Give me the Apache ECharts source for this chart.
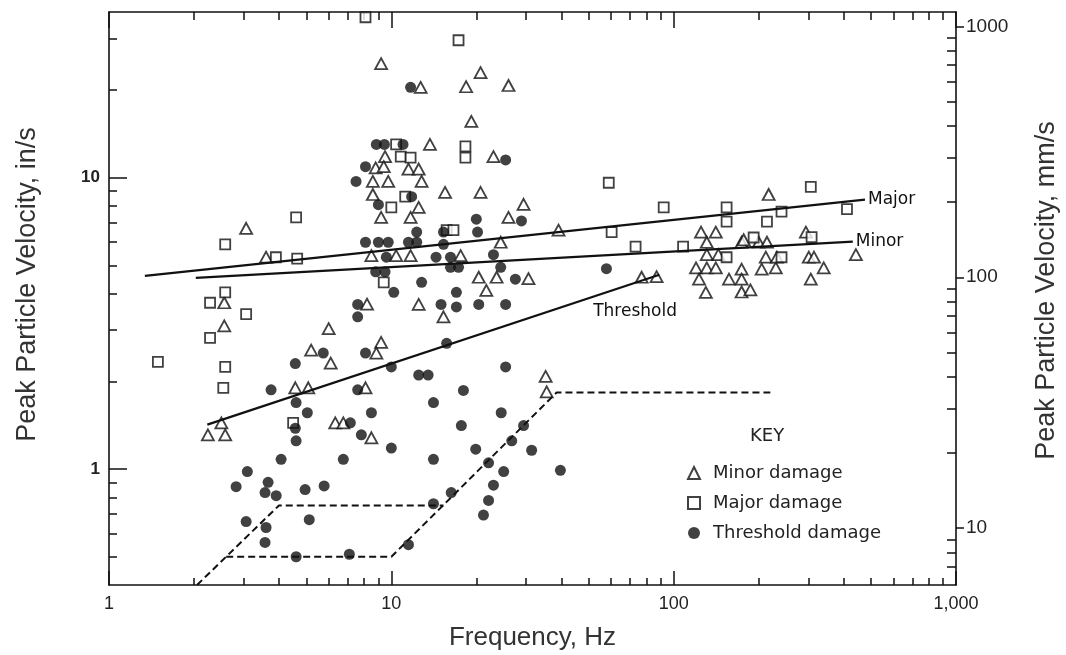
<!DOCTYPE html>
<html><head><meta charset="utf-8">
<script src="https://cdn.jsdelivr.net/npm/echarts@6/dist/echarts.min.js"></script>
<style>html,body{margin:0;padding:0;background:#fff}#c{width:1066px;height:655px}</style>
</head><body><div id="c"></div>
<script>
// ---- data (frequency Hz, peak particle velocity in/s) ----
const minorDamage = [
[9.2,24.6],[12.7,20.4],[18.4,20.5],[20.7,22.9],[26.0,20.7],[19.2,15.6],[13.7,13.0],[23.0,11.8],[9.5,11.8],[8.8,10.8],[9.4,10.9],[11.5,10.7],[12.5,10.7],[8.6,9.7],[9.75,9.7],[12.8,9.7],[8.6,8.75],[15.5,8.9],[20.7,8.9],[12.5,7.9],[29.4,8.1],[26.0,7.3],[9.2,7.3],[11.7,7.3],[39.1,6.6],[8.5,5.4],[10.4,5.4],[11.7,5.4],[17.6,5.4],[20.4,4.55],[23.6,4.55],[30.6,4.5],[21.7,4.1],[24.4,6.0],[12.5,3.67],[15.3,3.33],[8.2,3.68],[9.2,2.72],[8.85,2.5],[6.1,2.31],[5.2,2.56],[6.0,3.03],[3.6,5.33],[3.06,6.7],[2.56,3.72],[2.56,3.1],[4.57,1.9],[5.08,1.9],[8.1,1.9],[2.5,1.44],[2.24,1.31],[2.58,1.31],[6.33,1.44],[6.76,1.44],[8.5,1.28],[35.2,2.08],[35.5,1.84],[77,4.55],[87,4.57],[125,6.5],[141,6.5],[131,6.0],[174,6.0],[131,5.44],[144,5.44],[120,4.9],[131,4.9],[141,4.9],[174,4.85],[123,4.48],[157,4.48],[174,4.48],[130,4.04],[174,4.05],[187,4.12],[177,6.12],[200,6.0],[214,6.0],[217,8.75],[294,6.5],[301,5.33],[314,5.33],[340,4.9],[306,4.48],[442,5.44],[205,4.85],[230,4.9],[212,5.33],[232,5.33]
];
const majorDamage = [
[8.1,35.5],[17.3,29.6],[18.3,12.8],[18.3,11.7],[10.4,13.0],[10.8,11.8],[11.7,11.7],[11.2,8.6],[10.0,7.9],[15.7,6.6],[16.6,6.6],[9.4,4.37],[58.9,9.6],[60.3,6.5],[73.3,5.8],[92.2,7.9],[108,5.8],[154,7.9],[154,7.06],[214,7.06],[241,7.64],[306,9.3],[411,7.8],[192,6.23],[308,6.25],[154,5.33],[241,5.33],[1.49,2.33],[2.58,5.9],[3.9,5.33],[4.64,5.27],[4.6,7.3],[2.58,4.04],[2.28,3.72],[3.06,3.4],[2.28,2.82],[2.58,2.24],[2.54,1.9],[4.49,1.44]
];
const thresholdDamage = [
[11.7,20.4],[8.85,13.0],[9.45,13.0],[11.0,13.0],[25.4,11.5],[8.1,10.9],[7.5,9.7],[11.8,8.6],[9.0,8.07],[20.0,7.2],[28.9,7.1],[12.3,6.5],[20.2,6.5],[8.1,6.0],[9.0,6.0],[9.75,6.0],[11.5,6.0],[12.3,6.0],[15.3,5.9],[9.6,5.33],[14.4,5.33],[16.2,5.33],[23.0,5.44],[8.8,4.75],[9.5,4.75],[16.2,4.92],[17.3,4.92],[24.4,4.92],[57.8,4.87],[12.8,4.37],[27.5,4.48],[10.2,4.04],[17.0,4.04],[7.6,3.67],[7.6,3.33],[15.0,3.67],[17.0,3.6],[20.4,3.67],[25.4,3.67],[4.57,2.3],[5.74,2.5],[8.1,2.5],[10.0,2.24],[15.7,2.7],[12.5,2.1],[13.5,2.1],[25.4,2.24],[3.75,1.87],[7.6,1.87],[4.6,1.69],[5.04,1.56],[4.57,1.38],[4.6,1.25],[7.16,1.44],[8.5,1.56],[7.83,1.31],[10.0,1.18],[4.07,1.08],[6.76,1.08],[14.1,1.08],[14.1,1.69],[18.0,1.86],[24.5,1.56],[17.7,1.41],[29.4,1.41],[19.9,1.17],[26.7,1.25],[31.4,1.16],[22.1,1.05],[25.0,0.98],[39.7,0.99],[23.0,0.88],[16.3,0.83],[22.1,0.78],[14.1,0.76],[21.2,0.695],[11.5,0.55],[3.09,0.98],[2.82,0.87],[3.66,0.9],[3.57,0.83],[3.91,0.81],[4.95,0.85],[5.78,0.875],[3.06,0.66],[3.6,0.63],[3.57,0.56],[5.12,0.67],[4.6,0.5],[7.1,0.51],[15.3,6.5]
];
const majorLine = [[1.34, 4.6], [476, 8.4]];
const minorLine = [[2.03, 4.53], [431, 6.03]];
const thresholdLine = [[2.23, 1.42], [89, 4.64]];
const dashUpper = [[2.05, 0.4], [4.0, 0.75], [15.3, 0.75]];
const dashLower = [[2.6, 0.5], [10, 0.5], [38.5, 1.83], [220, 1.83]];
const lineLabels = [['Major', 476, 8.4], ['Minor', 431, 6.03], ['Threshold', 73, 3.46]];
const xRange = [1, 1000];
const yRange = [0.4, 37];
const yRightRange = [5.94, 1140];
const xTickLabels = {1: '1', 10: '10', 100: '100', 1000: '1,000'};
const yTickLabels = {1: '1', 10: '10'};
const yRightTickLabels = {10: '10', 100: '100', 1000: '1000'};

// ---- chart ----
const FONT = '"Liberation Sans", Arial, sans-serif';
const FONT2 = '"DejaVu Sans", sans-serif';
const L10 = Math.log10;
function minorTicks(lo, hi) {
  const out = [];
  for (let k = -1; k <= 3; k++) for (let d = 2; d <= 9; d++) {
    const v = d * Math.pow(10, k);
    if (v > lo * 1.03 && v < hi / 1.03) out.push(L10(v));
  }
  return out;
}
function pick(map) {
  return function (v) { const r = Math.round(v * 1000) / 1000; return map[r] !== undefined ? map[r] : ''; };
}
const axLine = {show: true, onZero: false, lineStyle: {color: '#111', width: 1.6}};
const tickStyle = {color: '#111', width: 1.5};
const none = {show: false};

const chart = echarts.init(document.getElementById('c'), null, {renderer: 'canvas'});
chart.setOption({
  animation: false,
  backgroundColor: '#fff',
  grid: {left: 109, right: 110, top: 12, bottom: 70, containLabel: false, outerBoundsMode: 'none'},
  title: {text: 'KEY', left: 745, top: 422, textStyle: {fontSize: 18, fontWeight: 'normal', color: '#222', fontFamily: FONT2}},
  legend: {
    data: ['Minor damage', 'Major damage', 'Threshold damage'],
    orient: 'vertical', left: 682, top: 459, itemWidth: 12, itemHeight: 12, itemGap: 12,
    textStyle: {fontSize: 18, color: '#222', fontFamily: FONT2, padding: [0, 0, 0, 8]}
  },
  xAxis: [
    {type: 'log', logBase: 10, min: xRange[0], max: xRange[1], position: 'bottom',
     axisLine: axLine, axisTick: {show: true, inside: true, length: 14, lineStyle: tickStyle},
     axisLabel: {margin: 10, fontSize: 18, color: '#222', fontFamily: FONT, formatter: pick(xTickLabels), showMinLabel: true, showMaxLabel: true},
     splitLine: none, minorTick: none,
     name: 'Frequency, Hz', nameLocation: 'middle', nameGap: 40,
     nameTextStyle: {fontSize: 26, color: '#333', fontFamily: FONT}},
    {type: 'log', logBase: 10, min: xRange[0], max: xRange[1], position: 'top',
     axisLine: axLine, axisTick: {show: true, inside: true, length: 16, lineStyle: tickStyle},
     axisLabel: none, splitLine: none},
    {type: 'value', min: L10(xRange[0]), max: L10(xRange[1]), position: 'bottom',
     axisLine: {show: false, onZero: false}, axisLabel: none, splitLine: none,
     axisTick: {show: true, inside: true, length: 7, lineStyle: tickStyle, customValues: minorTicks(xRange[0], xRange[1])}},
    {type: 'value', min: L10(xRange[0]), max: L10(xRange[1]), position: 'top',
     axisLine: {show: false, onZero: false}, axisLabel: none, splitLine: none,
     axisTick: {show: true, inside: true, length: 8, lineStyle: tickStyle, customValues: minorTicks(xRange[0], xRange[1])}}
  ],
  yAxis: [
    {type: 'log', logBase: 10, min: yRange[0], max: yRange[1], position: 'left',
     axisLine: axLine, axisTick: {show: true, inside: true, length: 18, lineStyle: tickStyle},
     axisLabel: {margin: 9, fontSize: 17, fontWeight: 'bold', color: '#222', fontFamily: FONT, formatter: pick(yTickLabels), showMinLabel: false, showMaxLabel: false},
     splitLine: none, minorTick: none,
     name: 'Peak Particle Velocity, in/s', nameLocation: 'middle', nameGap: 68,
     nameTextStyle: {fontSize: 27, color: '#333', fontFamily: FONT, padding: [0, 0, 0, 28]}},
    {type: 'log', logBase: 10, min: yRightRange[0], max: yRightRange[1], position: 'right',
     axisLine: axLine, axisTick: none,
     axisLabel: {margin: 10, fontSize: 19, color: '#222', fontFamily: FONT, formatter: pick(yRightTickLabels), showMinLabel: false, showMaxLabel: false},
     splitLine: none,
     name: 'Peak Particle Velocity, mm/s', nameLocation: 'middle', nameGap: 77,
     nameTextStyle: {fontSize: 27, color: '#333', fontFamily: FONT, padding: [0, 0, 0, 16]}},
    {type: 'value', min: L10(yRange[0]), max: L10(yRange[1]), position: 'left',
     axisLine: {show: false, onZero: false}, axisLabel: none, splitLine: none,
     axisTick: {show: true, inside: true, length: 8, lineStyle: tickStyle, customValues: minorTicks(yRange[0], yRange[1])}},
    {type: 'value', min: L10(yRightRange[0]), max: L10(yRightRange[1]), position: 'right',
     axisLine: {show: false, onZero: false}, axisLabel: none, splitLine: none,
     axisTick: {show: true, inside: true, length: 9, lineStyle: tickStyle, customValues: minorTicks(yRightRange[0], yRightRange[1])}},
    {type: 'value', min: L10(yRightRange[0]), max: L10(yRightRange[1]), position: 'right',
     axisLine: {show: false, onZero: false}, axisLabel: none, splitLine: none,
     axisTick: {show: true, inside: false, length: 8, lineStyle: tickStyle, customValues: Object.keys(yRightTickLabels).map(Number).map(L10)}}
  ],
  series: [
    {name: 'Minor damage', type: 'scatter', symbol: 'triangle', symbolSize: [12, 11], data: minorDamage,
     itemStyle: {color: '#fff', borderColor: '#111', borderWidth: 1.8}, z: 3},
    {name: 'Major damage', type: 'scatter', symbol: 'rect', symbolSize: 10, data: majorDamage,
     itemStyle: {color: '#fff', borderColor: '#111', borderWidth: 1.8}, z: 3},
    {name: 'Threshold damage', type: 'scatter', symbol: 'circle', symbolSize: 11, data: thresholdDamage,
     itemStyle: {color: '#111'}, z: 4},
    {name: 'MajorLine', type: 'line', data: majorLine, symbol: 'none', lineStyle: {color: '#111', width: 2.2}, z: 5},
    {name: 'MinorLine', type: 'line', data: minorLine, symbol: 'none', lineStyle: {color: '#111', width: 2.2}, z: 5},
    {name: 'ThresholdLine', type: 'line', data: thresholdLine, symbol: 'none', lineStyle: {color: '#111', width: 2.2}, z: 5,
     markPoint: {symbol: 'circle', symbolSize: 0, silent: true,
       data: lineLabels.map(function (d, i) {
         return {coord: [d[1], d[2]], label: {show: true, formatter: d[0], position: i < 2 ? 'right' : 'inside', distance: 3,
           fontSize: 17, color: '#111', fontFamily: FONT2}};
       })}},
    {name: 'DashUpper', type: 'line', data: dashUpper, symbol: 'none', lineStyle: {color: '#111', width: 2, type: [7, 4]}, z: 5},
    {name: 'DashLower', type: 'line', data: dashLower, symbol: 'none', lineStyle: {color: '#111', width: 2, type: [7, 4]}, z: 5}
  ]
});
</script></body></html>
